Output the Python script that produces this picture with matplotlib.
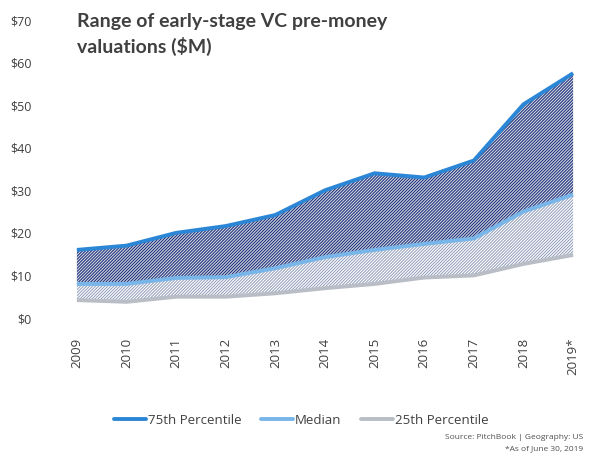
import matplotlib
matplotlib.use('Agg')
import matplotlib.pyplot as plt
from matplotlib.lines import Line2D

years = ['2009', '2010', '2011', '2012', '2013', '2014', '2015', '2016', '2017', '2018', '2019*']
p75 = [16.0, 17.0, 20.0, 21.6, 24.2, 30.0, 34.0, 33.0, 37.0, 50.2, 57.5]
median = [8.0, 8.0, 9.4, 9.6, 11.7, 14.3, 16.0, 17.4, 18.7, 25.0, 29.0]
p25 = [4.2, 3.8, 5.0, 5.0, 5.8, 7.0, 8.0, 9.5, 10.0, 12.7, 14.8]
yticks = [0, 10, 20, 30, 40, 50, 60, 70]

plt.rcParams['font.family'] = ['Open Sans', 'DejaVu Sans']
plt.rcParams['hatch.linewidth'] = 0.7

fig = plt.figure(figsize=(6, 4.65), dpi=100)
ax = fig.add_axes([62 / 600, 1 - 318 / 465, 526 / 600, 298 / 465])

x = list(range(len(years)))

# shaded bands
ax.fill_between(x, median, p75, facecolor='#cfd3db', edgecolor='#14287a',
                hatch='/' * 11, linewidth=0, zorder=1)
ax.fill_between(x, p25, median, facecolor='#ffffff', edgecolor='#8f9bb8',
                hatch='/' * 11, linewidth=0, zorder=1)

ax.plot(x, p25, color='#b9bec6', lw=2.8, solid_capstyle='butt', zorder=3)
ax.plot(x, median, color='#78b6ea', lw=2.8, solid_capstyle='butt', zorder=3)
ax.plot(x, p75, color='#2b87d6', lw=2.8, solid_capstyle='butt', zorder=4)

ax.set_xlim(-0.3, 10.3)
ax.set_ylim(0, 70)
ax.set_yticks(yticks)
ax.set_yticklabels(['$%d' % v for v in yticks], fontsize=9, color='#404040')
ax.set_xticks(x)
ax.set_xticklabels(years, rotation=90, fontsize=9.5, color='#404040')
ax.tick_params(axis='y', length=0, pad=22)
ax.tick_params(axis='x', length=0, pad=14)
for s in ax.spines.values():
    s.set_visible(False)

fig.text(77 / 600, 1 - 13 / 465, 'Range of early-stage VC pre-money\nvaluations ($M)',
         fontsize=14, fontweight='bold', family=['Lato', 'DejaVu Sans'],
         color='#404040', va='top', ha='left', linespacing=1.45)

handles = [Line2D([], [], color='#2b87d6', lw=2.8, solid_capstyle='round'),
           Line2D([], [], color='#78b6ea', lw=2.8, solid_capstyle='round'),
           Line2D([], [], color='#b9bec6', lw=2.8, solid_capstyle='round')]
fig.legend(handles, ['75th Percentile', 'Median', '25th Percentile'],
           loc='center', bbox_to_anchor=(301 / 600, 1 - 420 / 465), ncol=3,
           frameon=False, fontsize=9.5, handlelength=2.4, handletextpad=0.15,
           columnspacing=1.5, labelcolor='#404040')

fig.text(583 / 600, 1 - 437 / 465, 'Source: PitchBook | Geography: US',
         fontsize=6, color='#505050', ha='right', va='center')
fig.text(583 / 600, 1 - 449 / 465, '*As of June 30, 2019',
         fontsize=6, color='#505050', ha='right', va='center')

fig.savefig('out.png', dpi=100)
